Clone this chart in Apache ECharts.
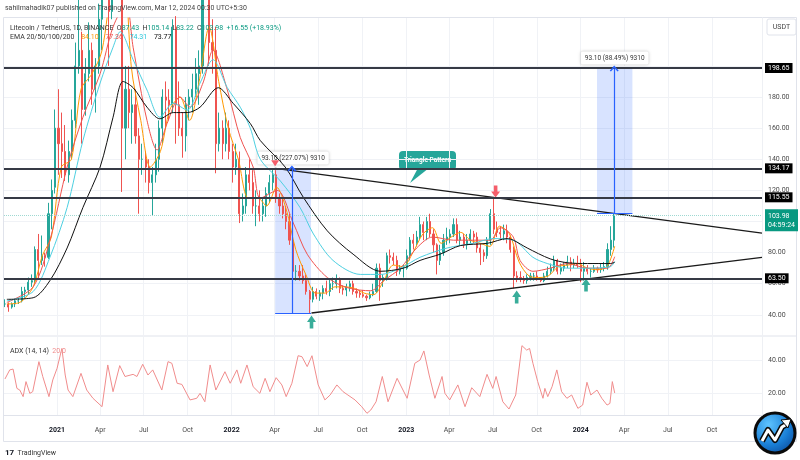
<!DOCTYPE html>
<html><head><meta charset="utf-8">
<script src="https://cdn.jsdelivr.net/npm/echarts@6/dist/echarts.min.js"></script>
<style>html,body{margin:0;padding:0;background:#fff}#c{width:800px;height:460px}</style>
</head><body><div id="c"></div>
<script>
// ---------- DATA ----------
const xMin = '2020-09-12', xMax = '2025-01-14';
const timeTicks = ['2021-01-01','2021-04-01','2021-07-01','2021-10-01','2022-01-01','2022-04-01','2022-07-01','2022-10-01','2023-01-01','2023-04-01','2023-07-01','2023-10-01','2024-01-01','2024-04-01','2024-07-01','2024-10-01'];
const monthNames = ['Jan','Feb','Mar','Apr','May','Jun','Jul','Aug','Sep','Oct','Nov','Dec'];
const priceTicks = [40,60,80,100,120,140,160,180,200];
const adxTicks = [20,40];
const levels = [198.65, 134.17, 115.55, 63.50];
const lastPrice = 103.98;
const lastCountdown = '04:59:24';

// weekly candles: [date, open, close, low, high]
const candles = [
['2020-09-14',47,47,45,50],['2020-09-21',47,45,42,48],['2020-09-28',45,47,44,48],['2020-10-05',47,49,45,50],
['2020-10-12',49,49,47,51],['2020-10-19',49,55,48,58],['2020-10-26',55,56,51,58],['2020-11-02',56,61,53,64],
['2020-11-09',61,62,58,66],['2020-11-16',62,82,60,84],['2020-11-23',82,75,63,92],['2020-11-30',75,78,72,91],
['2020-12-07',78,77,71,80],['2020-12-14',77,105,76,112],['2020-12-21',105,120,95,127],['2020-12-28',122,160,118,172],
['2021-01-04',160,150,130,185],['2021-01-11',150,145,128,170],['2021-01-18',145,130,126,162],['2021-01-25',130,145,125,152],
['2021-02-01',145,165,140,172],['2021-02-08',165,200,160,215],['2021-02-15',200,210,195,245],['2021-02-22',210,172,150,222],
['2021-03-01',172,195,168,205],['2021-03-08',195,210,190,228],['2021-03-15',210,185,175,215],['2021-03-22',185,200,170,205],
['2021-03-29',200,230,195,240],['2021-04-05',230,255,210,262],['2021-04-12',255,300,250,335],['2021-04-19',300,235,200,310],
['2021-04-26',235,300,230,320],['2021-05-03',300,390,290,413],['2021-05-10',390,260,250,412],['2021-05-17',260,160,119,280],
['2021-05-24',160,185,140,200],['2021-05-31',185,170,160,200],['2021-06-07',170,175,150,185],['2021-06-14',175,155,150,185],
['2021-06-21',155,140,105,160],['2021-06-28',140,140,130,150],['2021-07-05',140,135,125,145],['2021-07-12',135,125,118,140],
['2021-07-19',125,130,104,135],['2021-07-26',130,140,125,150],['2021-08-02',140,160,132,165],['2021-08-09',160,180,150,185],
['2021-08-16',180,178,160,190],['2021-08-23',178,175,165,185],['2021-08-30',175,225,170,230],['2021-09-06',225,175,150,232],
['2021-09-13',175,160,155,190],['2021-09-20',160,155,141,170],['2021-09-27',155,175,145,180],['2021-10-04',175,180,165,185],
['2021-10-11',180,185,170,195],['2021-10-18',185,195,180,205],['2021-10-25',195,200,175,210],['2021-11-01',200,245,195,260],
['2021-11-08',245,250,235,295],['2021-11-15',250,215,200,255],['2021-11-22',215,210,195,230],['2021-11-29',210,150,131,225],
['2021-12-06',150,160,145,170],['2021-12-13',160,150,140,165],['2021-12-20',150,160,145,170],['2021-12-27',160,145,140,165],
['2022-01-03',145,135,125,150],['2022-01-10',135,140,130,150],['2022-01-17',140,105,99,145],['2022-01-24',105,110,100,118],
['2022-01-31',110,130,105,135],['2022-02-07',130,125,120,140],['2022-02-14',125,110,105,133],['2022-02-21',110,110,97,120],
['2022-02-28',110,105,100,120],['2022-03-07',105,110,100,115],['2022-03-14',110,118,103,122],['2022-03-21',118,125,112,130],
['2022-03-28',125,130,120,134],['2022-04-04',130,115,112,133],['2022-04-11',115,110,105,118],['2022-04-18',110,105,102,115],
['2022-04-25',105,100,95,110],['2022-05-02',100,88,85,105],['2022-05-09',88,68,52,90],['2022-05-16',68,68,62,72],
['2022-05-23',68,65,62,72],['2022-05-30',65,62,60,72],['2022-06-06',62,55,53,66],['2022-06-13',55,50,41,56],
['2022-06-20',50,55,48,58],['2022-06-27',55,52,50,57],['2022-07-04',52,54,49,56],['2022-07-11',54,57,50,59],
['2022-07-18',57,55,53,62],['2022-07-25',55,60,52,63],['2022-08-01',60,60,56,64],['2022-08-08',60,63,57,66],
['2022-08-15',63,57,54,64],['2022-08-22',57,56,53,59],['2022-08-29',56,58,52,60],['2022-09-05',58,60,55,62],
['2022-09-12',60,55,53,62],['2022-09-19',55,54,51,57],['2022-09-26',54,53,51,56],['2022-10-03',53,52,51,56],
['2022-10-10',52,51,49,53],['2022-10-17',51,53,50,55],['2022-10-24',53,55,52,60],['2022-10-31',55,70,54,73],
['2022-11-07',70,62,49,73],['2022-11-14',62,64,58,66],['2022-11-21',64,78,62,80],['2022-11-28',78,77,73,82],
['2022-12-05',77,75,72,80],['2022-12-12',75,68,65,78],['2022-12-19',68,70,66,72],['2022-12-26',70,70,64,72],
['2023-01-02',70,78,69,82],['2023-01-09',78,88,75,90],['2023-01-16',88,86,82,92],['2023-01-23',86,90,84,94],
['2023-01-30',90,98,88,103],['2023-02-06',98,93,88,100],['2023-02-13',93,100,88,103],['2023-02-20',100,92,90,105],
['2023-02-27',92,85,80,95],['2023-03-06',85,75,66,86],['2023-03-13',75,80,72,85],['2023-03-20',80,88,78,92],
['2023-03-27',88,90,85,96],['2023-04-03',90,92,86,95],['2023-04-10',92,98,90,102],['2023-04-17',98,88,86,102],
['2023-04-24',88,90,85,94],['2023-05-01',90,85,83,92],['2023-05-08',85,88,82,92],['2023-05-15',88,92,86,95],
['2023-05-22',92,90,86,94],['2023-05-29',90,83,80,93],['2023-06-05',83,80,72,86],['2023-06-12',80,78,74,82],
['2023-06-19',78,88,76,90],['2023-06-26',88,105,85,108],['2023-07-03',105,95,92,115.5],['2023-07-10',95,93,90,100],
['2023-07-17',93,92,88,97],['2023-07-24',92,94,88,98],['2023-07-31',94,90,86,98],['2023-08-07',90,82,80,91],
['2023-08-14',82,65,57,84],['2023-08-21',65,64,61,68],['2023-08-28',64,63,61,68],['2023-09-04',63,62,60,65],
['2023-09-11',62,64,60,66],['2023-09-18',64,65,62,67],['2023-09-25',65,65,62,67],['2023-10-02',65,63,62,68],
['2023-10-09',63,62,61,64],['2023-10-16',62,65,61,67],['2023-10-23',65,68,64,71],['2023-10-30',68,70,66,73],
['2023-11-06',70,75,68,78],['2023-11-13',75,68,66,76],['2023-11-20',68,70,66,73],['2023-11-27',70,72,68,74],
['2023-12-04',72,74,70,78],['2023-12-11',74,72,68,77],['2023-12-18',72,73,70,76],['2023-12-25',73,72,70,78],
['2024-01-01',72,68,61,76],['2024-01-08',68,70,62,74],['2024-01-15',70,68,66,72],['2024-01-22',68,68,64,70],
['2024-01-29',68,70,67,72],['2024-02-05',70,69,67,71],['2024-02-12',69,70,67,73],['2024-02-19',70,71,68,74],
['2024-02-26',71,82,69,86],['2024-03-04',82,88,78,97],['2024-03-11',88,103.98,83.22,105.14]
];

const emaOrange = [
['2020-09-18',47],['2020-10-15',48],['2020-11-12',58],['2020-12-01',78],['2020-12-20',90],['2021-01-10',135],['2021-01-31',140],
['2021-02-20',185],['2021-03-15',195],['2021-04-05',210],['2021-04-25',255],['2021-05-15',300],['2021-06-05',200],['2021-06-25',165],
['2021-07-15',135],['2021-08-05',145],['2021-08-25',172],['2021-09-15',180],['2021-10-05',165],['2021-10-25',190],['2021-11-15',225],
['2021-12-05',190],['2021-12-25',160],['2022-01-15',140],['2022-02-05',115],['2022-02-25',115],['2022-03-15',110],['2022-04-05',122],
['2022-04-25',108],['2022-05-15',82],['2022-06-05',66],['2022-06-25',54],['2022-07-15',54],['2022-08-05',58],['2022-08-25',58],
['2022-09-15',57],['2022-10-05',54],['2022-10-25',53],['2022-11-15',62],['2022-12-05',72],['2022-12-25',71],['2023-01-15',80],
['2023-02-05',92],['2023-02-25',96],['2023-03-15',86],['2023-04-05',90],['2023-04-25',93],['2023-05-15',88],['2023-06-05',86],
['2023-06-25',84],['2023-07-15',97],['2023-08-05',92],['2023-08-25',74],['2023-09-15',65],['2023-10-05',64],['2023-10-25',65],
['2023-11-15',71],['2023-12-05',72],['2023-12-25',73],['2024-01-15',70],['2024-02-05',69],['2024-02-25',71],['2024-03-12',84.1]
];
const emaRed = [
['2020-09-18',48],['2020-11-12',58],['2020-12-17',88],['2021-01-22',135],['2021-02-24',167],['2021-04-01',195],['2021-04-28',225],
['2021-05-25',240],['2021-06-09',212],['2021-07-08',165],['2021-07-29',146],['2021-08-19',163],['2021-09-15',180],['2021-10-06',173.5],
['2021-11-02',189],['2021-11-23',210],['2021-12-23',184.5],['2022-01-19',154],['2022-02-15',135],['2022-03-02',115],['2022-04-06',120],
['2022-05-10',99],['2022-06-08',79],['2022-07-20',64],['2022-09-01',57.4],['2022-10-19',55.5],['2022-11-15',62],['2022-12-20',70],
['2023-01-23',83],['2023-02-25',90],['2023-04-10',88],['2023-05-21',88],['2023-06-26',88],['2023-07-17',96],['2023-08-13',90],
['2023-08-27',75],['2023-09-23',68],['2023-10-29',70],['2023-12-04',73],['2024-01-15',70],['2024-02-26',70],['2024-03-12',77.36]
];
const emaCyan = [
['2020-09-18',49],['2020-11-12',55],['2020-12-17',77],['2021-01-22',109],['2021-02-24',152],['2021-04-01',189],['2021-04-28',212],
['2021-05-13',222],['2021-06-09',204],['2021-07-08',184.5],['2021-08-04',167],['2021-09-01',176],['2021-09-30',171.6],['2021-10-27',189],
['2021-11-23',204],['2021-12-23',186],['2022-01-19',173.5],['2022-02-09',160],['2022-03-02',140],['2022-04-13',126],['2022-05-24',109],
['2022-06-21',92],['2022-08-01',75],['2022-09-27',66],['2022-11-08',66],['2022-12-20',70],['2023-01-30',77],['2023-03-28',83],
['2023-05-21',86],['2023-07-02',89],['2023-08-13',88],['2023-09-23',77],['2023-10-23',73],['2023-12-04',70],['2024-01-15',70],
['2024-03-03',71],['2024-03-12',74.31]
];
const emaBlack = [
['2020-09-18',50],['2020-11-12',51],['2020-12-17',62],['2021-01-22',83],['2021-02-24',109],['2021-04-01',135],['2021-04-28',167],
['2021-05-19',190],['2021-06-09',186],['2021-07-08',173.5],['2021-08-04',166],['2021-09-01',170],['2021-09-30',170],['2021-10-27',173.5],
['2021-12-04',186],['2022-01-04',176],['2022-02-09',163],['2022-03-02',152],['2022-04-23',135],['2022-05-31',115.5],['2022-07-20',94],
['2022-09-12',79],['2022-11-08',68],['2022-12-26',70],['2023-01-30',75],['2023-03-13',79],['2023-04-24',84.5],['2023-06-20',86],
['2023-07-31',89],['2023-08-13',88],['2023-09-11',83],['2023-10-29',76],['2023-12-04',73.5],['2024-01-15',73],['2024-03-03',73],
['2024-03-12',73.77]
];
const adx = [
['2020-09-14',28.5],['2020-09-24',34],['2020-10-01',34.5],['2020-10-09',22.8],['2020-10-15',21.8],['2020-10-22',17.8],['2020-10-28',26.9],
['2020-11-05',19.8],['2020-11-11',20.8],['2020-11-24',39],['2020-12-02',30],['2020-12-15',17.8],['2020-12-23',27.9],['2021-01-01',35],
['2021-01-11',47],['2021-01-18',30.9],['2021-01-24',21.8],['2021-02-03',17.8],['2021-02-20',31.9],['2021-03-04',21.8],['2021-03-17',16.8],
['2021-04-05',11.7],['2021-04-17',37],['2021-04-28',20.8],['2021-05-12',36.6],['2021-05-23',30],['2021-06-09',31.3],['2021-06-17',30],
['2021-06-29',37.4],['2021-07-10',30.9],['2021-07-20',34],['2021-08-08',21.8],['2021-08-21',39],['2021-08-29',38],['2021-09-09',25.9],
['2021-09-19',25.2],['2021-10-06',15.8],['2021-10-20',16.8],['2021-10-27',19.8],['2021-11-06',14.7],['2021-11-17',37],['2021-11-29',21.8],
['2021-12-18',32.9],['2021-12-29',25.9],['2022-01-12',34],['2022-01-20',25.9],['2022-02-02',37],['2022-02-15',23.8],['2022-03-01',19.8],
['2022-03-12',28.9],['2022-03-22',20.8],['2022-04-04',29.3],['2022-04-16',24.9],['2022-04-25',17.8],['2022-05-07',25.9],['2022-05-20',42.6],
['2022-05-28',42],['2022-06-08',36],['2022-06-18',42.6],['2022-07-01',24.9],['2022-07-15',15.8],['2022-07-26',18.8],['2022-08-09',24.9],
['2022-08-22',20.8],['2022-09-01',18.8],['2022-09-16',15.8],['2022-09-30',11.7],['2022-10-11',7.7],['2022-10-19',9.7],['2022-10-30',14.7],
['2022-11-03',13.7],['2022-11-12',30],['2022-11-24',14.7],['2022-12-13',28.9],['2023-01-03',16.8],['2023-01-19',38],['2023-01-30',40],
['2023-02-07',45.5],['2023-02-18',30.9],['2023-03-02',16.8],['2023-03-17',30],['2023-03-23',19.8],['2023-04-02',15.8],['2023-04-19',24.9],
['2023-05-04',11.7],['2023-05-18',23.2],['2023-06-04',17.8],['2023-06-19',31.3],['2023-07-01',22.8],['2023-07-08',30],['2023-07-22',14.7],
['2023-08-04',10.3],['2023-08-18',18.8],['2023-08-31',48.7],['2023-09-10',46],['2023-09-16',47],['2023-09-23',38],['2023-10-03',26.9],
['2023-10-14',16.8],['2023-10-18',22.8],['2023-10-24',17.8],['2023-11-02',23.8],['2023-11-12',34],['2023-11-22',20.8],['2023-12-03',16.8],
['2023-12-13',18.8],['2023-12-26',10.7],['2024-01-05',12.7],['2024-01-14',26.5],['2024-01-22',18.8],['2024-02-04',21.8],['2024-02-14',16.8],
['2024-02-25',12.7],['2024-03-02',13.7],['2024-03-07',26.9],['2024-03-12',20.0]
];
const triUpper = [['2022-04-02',134.2],['2025-01-14',92.6]];
const triLower = [['2022-06-17',41.2],['2025-01-14',77.0]];
const ranges = [
  {start:'2022-04-02', mid:'2022-05-07', end:'2022-06-16', from:41.0, to:134.1, label:'93.10 (227.07%) 9310'},
  {start:'2024-02-04', mid:'2024-03-11', end:'2024-04-18', from:105.21, to:198.31, label:'93.10 (88.49%) 9310'}
];
const redTriangles = [['2022-04-02',137.5]];
const redArrows = [['2023-07-07',119.3]];
const greenArrows = [['2022-06-17',35.4],['2023-08-20',51.5],['2024-01-12',59.2]];

// ---------- CHART ----------
const FONT = 'Roboto, "Noto Sans", sans-serif';
const ts = s => echarts.number.parseDate(s).getTime();
const toT = arr => arr.map(r => [ts(r[0])].concat(r.slice(1)));
const tickTs = timeTicks.map(ts);
const GREEN = '#089981', RED = '#f23645';
const chart = echarts.init(document.getElementById('c'), null, {renderer:'canvas'});

const gridLine = {show:true, lineStyle:{color:'#f0f2f6', width:1}};
const chevron = 'path://M0,6 L5,0 L10,6 L8.6,7 L5,2.6 L1.4,7 Z';
const xFmt = function(v){const d=new Date(v);const m=d.getMonth();return m===0?'{y|'+d.getFullYear()+'}':monthNames[m];};

const option = {
  animation:false,
  backgroundColor:'#ffffff',
  textStyle:{fontFamily:FONT},
  grid:[
    {left:4, right:38, top:18, height:317},
    {left:4, right:38, top:337, height:78}
  ],
  xAxis:[
    {type:'value', gridIndex:0, min:ts(xMin), max:ts(xMax), axisLabel:{show:false},
     axisLine:{show:false}, axisTick:{show:false, customValues:tickTs}, splitLine:gridLine},
    {type:'value', gridIndex:1, min:ts(xMin), max:ts(xMax),
     axisLine:{show:true, lineStyle:{color:'#e0e3eb'}},
     axisTick:{show:false, customValues:tickTs}, splitLine:gridLine,
     axisLabel:{show:true, customValues:tickTs, margin:12, fontSize:7, color:'#4a4a4a', fontFamily:FONT,
       formatter:xFmt, rich:{y:{fontWeight:'bold', fontSize:7, color:'#131722', fontFamily:FONT}}}}
  ],
  yAxis:[
    {type:'value', gridIndex:0, position:'right', min:27.06, max:230.79,
     axisLine:{show:false}, axisTick:{show:false, customValues:priceTicks}, splitLine:gridLine,
     axisLabel:{customValues:priceTicks, formatter:v=>v.toFixed(2), fontSize:7, color:'#4a4a4a', margin:6, fontFamily:FONT}},
    {type:'value', gridIndex:1, position:'right', min:6.67, max:53.94,
     axisLine:{show:false}, axisTick:{show:false, customValues:adxTicks}, splitLine:gridLine,
     axisLabel:{customValues:adxTicks, formatter:v=>v.toFixed(2), fontSize:7, color:'#4a4a4a', margin:6, fontFamily:FONT}}
  ],
  series:[
    {type:'candlestick', xAxisIndex:0, yAxisIndex:0, data:toT(candles), encode:{x:0, y:[1,2,3,4]},
     barWidth:1.6, clip:true,
     itemStyle:{color:'#26a69a', color0:'#ef5350', borderColor:'#26a69a', borderColor0:'#ef5350', borderWidth:1}},
    {type:'line', name:'EMA20', data:toT(emaOrange), showSymbol:false, smooth:0.3, clip:true, lineStyle:{color:'#ff9800', width:1}, silent:true},
    {type:'line', name:'EMA50', data:toT(emaRed), showSymbol:false, smooth:0.3, clip:true, lineStyle:{color:'#ef5350', width:1}, silent:true},
    {type:'line', name:'EMA100', data:toT(emaCyan), showSymbol:false, smooth:0.3, clip:true, lineStyle:{color:'#4dd0e1', width:1}, silent:true},
    {type:'line', name:'EMA200', data:toT(emaBlack), showSymbol:false, smooth:0.3, clip:true, lineStyle:{color:'#111111', width:1}, silent:true},
    {type:'line', data:toT(triUpper), showSymbol:false, clip:true, lineStyle:{color:'#1a1a1a', width:1.3}, silent:true},
    {type:'line', data:toT(triLower), showSymbol:false, clip:true, lineStyle:{color:'#1a1a1a', width:1.3}, silent:true,
     markLine:{silent:true, symbol:['none','none'], animation:false,
       data: levels.map(v=>({yAxis:v, lineStyle:{color:'#363a45', width:2, type:'solid'},
          label:{show:true, position:'end', distance:3, formatter:v.toFixed(2), color:'#fff', backgroundColor:'#000',
                 padding:[2,3,1,3], fontSize:7, fontFamily:FONT}}))
         .concat([{yAxis:lastPrice, lineStyle:{color:'#9fd9d2', width:1, type:'dotted'},
          label:{show:true, position:'end', distance:3, formatter:lastPrice.toFixed(2)+'\n'+lastCountdown, color:'#fff',
                 backgroundColor:GREEN, padding:[2,3,2,3], fontSize:7, lineHeight:9, fontFamily:FONT, offset:[0,5]}}])}},
    {type:'line', data:[], silent:true, z:5,
     markArea:{silent:true, itemStyle:{color:'rgba(41,98,255,0.18)'},
       label:{show:true, position:'top', distance:4, formatter:'{b}', fontSize:6.5, color:'#333', fontFamily:FONT,
              backgroundColor:'#fff', padding:[3,4], borderRadius:2, shadowColor:'rgba(0,0,0,0.25)', shadowBlur:3},
       data: ranges.map(r=>[{coord:[ts(r.start), r.from], name:r.label},{coord:[ts(r.end), r.to]}])},
     markLine:{silent:true, symbol:['none','none'], animation:false, lineStyle:{color:'#2962ff', width:1.2, type:'solid'}, label:{show:false},
       data: ranges.flatMap(r=>[
         [{coord:[ts(r.mid), r.from]},{coord:[ts(r.mid), r.to], symbol:chevron, symbolSize:[9,6]}],
         [{coord:[ts(r.start), r.from]},{coord:[ts(r.end), r.from]}]
       ])}},
    {type:'scatter', data:toT(redTriangles), symbol:'path://M0,0 L10,0 L5,7 Z', symbolSize:[8,6], itemStyle:{color:RED}, silent:true},
    {type:'scatter', data:toT(redArrows), symbol:'path://M3,0 L7,0 L7,6 L10,6 L5,12 L0,6 L3,6 Z', symbolSize:[9,12], itemStyle:{color:RED}, silent:true},
    {type:'scatter', data:toT(greenArrows), symbol:'path://M5,0 L10,6 L7,6 L7,12 L3,12 L3,6 L0,6 Z', symbolSize:[9,13], itemStyle:{color:GREEN}, silent:true},
    {type:'line', xAxisIndex:1, yAxisIndex:1, data:toT(adx), showSymbol:false, lineStyle:{color:'#f08c8c', width:1}, silent:true}
  ],
  graphic:[
    {type:'rect', z:0, silent:true, shape:{x:3.5, y:17.5, width:793, height:424}, style:{fill:'none', stroke:'#e0e3eb', lineWidth:1}},
    {type:'line', z:0, silent:true, shape:{x1:3.5, y1:336, x2:796.5, y2:336}, style:{stroke:'#e0e3eb', lineWidth:1}},
    {type:'line', z:0, silent:true, shape:{x1:762.5, y1:17.5, x2:762.5, y2:415}, style:{stroke:'#eef0f4', lineWidth:1}},
    {type:'text', z:100, left:5, top:5, style:{text:'sahilmahadik07 published on TradingView.com, Mar 12, 2024 00:30 UTC+5:30', fontSize:7, fill:'#444', fontFamily:FONT}},
    {type:'text', z:100, left:10, top:22, style:{
      text:'{n|Litecoin / TetherUS, 1D, BINANCE  O}{g|87.43} {n|H}{g|105.14} {n|L}{g|83.22} {n|C}{g|103.98} {g|+16.55 (+18.93%)}',
      rich:{n:{fontSize:7, fill:'#333', fontFamily:FONT}, g:{fontSize:7, fill:GREEN, fontFamily:FONT}}}},
    {type:'text', z:100, left:10, top:31, style:{
      text:'{n|EMA 20/50/100/200}  {o|84.10}  {r|77.36}  {c|74.31}  {k|73.77}',
      rich:{n:{fontSize:7, fill:'#333', fontFamily:FONT}, o:{fontSize:7, fill:'#ff9800', fontFamily:FONT},
            r:{fontSize:7, fill:'#ef5350', fontFamily:FONT}, c:{fontSize:7, fill:'#26c6da', fontFamily:FONT}, k:{fontSize:7, fill:'#111', fontFamily:FONT}}}},
    {type:'text', z:100, left:10, top:345, style:{
      text:'{n|ADX (14, 14)} {r|20.0}',
      rich:{n:{fontSize:7, fill:'#333', fontFamily:FONT}, r:{fontSize:7, fill:'#f08c8c', fontFamily:FONT}}}},
    {type:'group', z:100, children:[
      {type:'polygon', shape:{points:[[418,168],[429,168],[410,183]]}, style:{fill:'#26a69a'}},
      {type:'rect', shape:{x:399, y:151, width:57, height:19, r:4}, style:{fill:'#26a69a'}},
      {type:'text', x:427.5, y:160.5, style:{text:'Triangle Pattern', fill:'#fff', fontSize:6.5, fontWeight:'bold', align:'center', verticalAlign:'middle', fontFamily:FONT}}
    ]},
    {type:'group', z:100, children:[
      {type:'rect', shape:{x:767, y:19, width:29, height:16, r:2}, style:{fill:'#fff', stroke:'#e0e3eb', lineWidth:1}},
      {type:'text', x:781.5, y:27, style:{text:'USDT', fill:'#444', fontSize:7, align:'center', verticalAlign:'middle', fontFamily:FONT}}
    ]},
    {type:'text', z:100, left:5, top:447, style:{
      text:'{b|17} {n|TradingView}',
      rich:{b:{fontSize:8, fontWeight:'bold', fill:'#131722', fontFamily:FONT}, n:{fontSize:7, fill:'#333', fontFamily:FONT}}}},
    {type:'group', z:120, children:[
      {type:'circle', shape:{cx:775, cy:433, r:20}, style:{
        fill:{type:'radial', x:0.35, y:0.3, r:0.8, colorStops:[{offset:0,color:'#5ec3ff'},{offset:0.6,color:'#1a7fd6'},{offset:1,color:'#0b4a9a'}]},
        stroke:'#0a0a0a', lineWidth:3}},
      {type:'polyline', shape:{points:[[762,441],[768,430],[775,440],[782,427],[787,424]]}, style:{stroke:'#0a0a0a', lineWidth:6, fill:'none', lineJoin:'round'}},
      {type:'polyline', shape:{points:[[762,441],[768,430],[775,440],[782,427],[787,424]]}, style:{stroke:'#ffffff', lineWidth:3, fill:'none', lineJoin:'round'}},
      {type:'polygon', shape:{points:[[781,420],[791,419],[788,428]]}, style:{fill:'#ffffff', stroke:'#0a0a0a', lineWidth:1}}
    ]}
  ]
};
chart.setOption(option);
</script></body></html>
